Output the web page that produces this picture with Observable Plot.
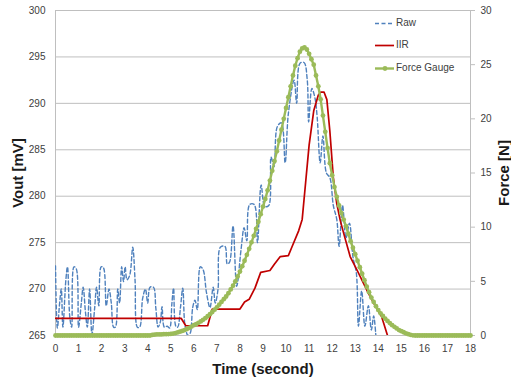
<!DOCTYPE html>
<html><head><meta charset="utf-8">
<script src="https://cdn.jsdelivr.net/npm/d3@7"></script>
<script src="https://cdn.jsdelivr.net/npm/@observablehq/plot@0.6"></script>
<style>
body{margin:0;background:#fff;font-family:"Liberation Sans",Arial,sans-serif;}
#wrap{position:relative;width:511px;height:380px;}
#legend{position:absolute;left:373px;top:14px;font-size:10px;color:#404040;line-height:1;}
#legend .row{position:absolute;left:0;width:100px;height:12px;white-space:nowrap;}
#legend svg{position:absolute;left:0;top:0;}
#legend span{position:absolute;left:23px;top:0;}
</style></head><body><div id="wrap"><div id="legend"></div></div>
<script>
// Raw sensor signal (Vout, mV)
const rawT = [0.00,0.08,0.18,0.25,0.32,0.45,0.52,0.62,0.70,0.80,0.90,1.00,1.12,1.20,1.30,1.38,1.48,1.58,1.70,1.78,1.88,1.98,2.08,2.20,2.32,2.42,2.52,2.60,2.70,2.78,2.87,2.95,3.02,3.10,3.22,3.35,3.45,3.55,3.65,3.78,3.90,4.00,4.10,4.25,4.35,4.45,4.55,4.62,4.72,4.85,4.95,5.05,5.12,5.22,5.30,5.42,5.52,5.62,5.75,5.85,5.95,6.05,6.15,6.28,6.40,6.55,6.70,6.84,6.93,7.05,7.15,7.35,7.45,7.55,7.70,7.86,8.05,8.18,8.30,8.42,8.62,8.76,8.92,9.08,9.25,9.35,9.48,9.62,9.80,9.96,10.10,10.35,10.46,10.60,10.78,10.92,10.98,11.12,11.26,11.35,11.48,11.60,11.75,11.90,12.05,12.20,12.30,12.45,12.60,12.75,12.90,13.05,13.14,13.28,13.42,13.57,13.70,13.80,13.90];
const rawV = [272.5,265.8,268.5,270.0,265.9,271.0,272.4,267.0,265.9,272.4,272.2,265.9,268.5,270.2,267.5,265.9,270.0,265.1,268.0,270.2,268.2,272.4,272.3,268.2,270.0,268.5,265.9,265.9,270.0,268.5,272.4,270.8,272.4,271.0,271.5,274.5,271.0,265.9,265.9,269.0,270.0,268.5,270.2,270.2,268.0,265.9,266.5,268.1,265.9,266.0,265.8,268.5,270.1,266.0,265.9,268.0,270.1,266.0,265.0,265.3,268.0,268.8,267.8,272.4,272.1,269.6,268.0,270.2,268.5,270.0,274.5,274.6,272.7,272.9,276.8,270.3,274.3,276.6,275.2,279.1,279.1,275.0,281.2,278.9,279.0,284.2,283.2,287.5,287.9,283.6,288.9,292.5,290.0,294.3,294.4,292.5,288.0,291.6,290.5,288.5,283.6,286.5,282.5,282.0,279.0,277.5,274.6,279.0,275.5,277.1,273.5,271.7,266.0,269.8,266.0,268.2,265.6,267.1,264.8];
// IIR filtered signal (Vout, mV)
const iirT = [0,5.45,5.65,6.6,6.8,8.0,8.2,8.4,8.65,8.9,9.3,9.5,9.75,10.1,10.25,10.55,10.7,10.85,11.0,11.2,11.4,11.5,11.65,11.77,11.9,12.05,12.2,12.35,12.5,12.78,13.15,13.5,13.8,14.15,14.4];
const iirV = [266.85,266.85,266.05,266.05,267.85,267.85,268.6,268.9,270.1,271.8,272.0,272.7,273.5,273.6,274.5,276.3,277.5,281.5,285.5,289.2,290.9,291.2,291.2,290.4,287.0,282.0,279.2,277.4,276.0,273.5,271.7,269.9,268.5,267.0,265.0];
// Force gauge (N), sampled every 0.1 s from 0 to 18 s
const gaugeF = [0,0,0,0,0,0,0,0,0,0,0,0,0,0,0,0,0,0,0,0,0,0,0,0,0,0,0,0,0,0,0,0,0,0,0,0,0,0,0,0,0,0,
0.05,0.08,0.1,0.1,0.1,0.12,0.12,0.13,0.15,0.18,0.22,0.28,0.35,0.42,0.5,0.6,0.7,0.82,0.95,1.05,1.17,1.3,1.45,1.6,1.78,1.97,2.17,2.38,2.6,2.85,3.1,3.35,3.6,3.9,4.25,4.6,5.0,5.45,5.9,6.4,6.9,7.45,8.0,8.6,9.2,9.85,10.5,11.2,11.9,12.6,13.4,14.3,15.2,16.1,17.0,18.0,19.0,20.0,21.0,22.0,23.0,24.0,24.9,25.6,26.2,26.5,26.6,26.4,26.0,25.5,25.0,24.0,23.0,21.8,20.3,18.8,17.3,15.9,14.8,13.7,12.8,12.0,11.3,10.7,10.1,9.4,8.7,8.1,7.5,6.9,6.3,5.7,5.1,4.5,4.0,3.5,3.1,2.7,2.35,2.05,1.8,1.55,1.35,1.15,0.95,0.8,0.65,0.5,0.4,0.3,0.2,0.12,0.06,0.02,
0,0,0,0,0,0,0,0,0,0,0,0,0,0,0,0,0,0,0,0,0,0,0,0,0];
const gaugeStep = 0.1;
const xTicks = [0,1,2,3,4,5,6,7,8,9,10,11,12,13,14,15,16,17,18];
const voutTicks = [265,270,275,280,285,290,295,300];
const forceTicks = [0,5,10,15,20,25,30];
const seriesNames = ["Raw","IIR","Force Gauge"];
const colors = {Raw:"#4F81BD", IIR:"#C00000", "Force Gauge":"#9BBB59"};

const vMin = 265, vMax = 300, fMax = 30;
const toV = f => vMin + f * (vMax - vMin) / fMax;
const toF = v => (v - vMin) * fMax / (vMax - vMin);

const raw = rawT.map((t,i)=>({t, v: rawV[i]}));
const iir = iirT.map((t,i)=>({t, v: iirV[i]}));
const gauge = gaugeF.map((f,i)=>({t: +(i*gaugeStep).toFixed(1), v: toV(f)}));

const plot = Plot.plot({
  width: 511, height: 380,
  marginLeft: 55, marginRight: 41, marginTop: 10, marginBottom: 45,
  style: {fontFamily: "'Liberation Sans', Arial, sans-serif", fontSize: "10px", color: "#404040", background: "#fff", overflow: "visible"},
  x: {domain: [0, 18]},
  y: {domain: [vMin, vMax]},
  marks: [
    Plot.gridY(voutTicks, {stroke: "#bfbfbf", strokeOpacity: 1}),
    Plot.ruleX([0], {stroke: "#bfbfbf"}),
    Plot.ruleX([18], {stroke: "#bfbfbf"}),
    Plot.axisY(voutTicks, {anchor: "left", tickSize: 0, tickPadding: 10, label: null}),
    Plot.axisY(forceTicks.map(toV), {anchor: "right", tickSize: 4, tickPadding: 6, label: null, stroke: "#bfbfbf", tickFormat: d => String(Math.round(toF(d)))}),
    Plot.axisX(xTicks, {anchor: "bottom", tickSize: 0, tickPadding: 9, label: null}),
    Plot.line(raw, {x: "t", y: "v", stroke: colors.Raw, strokeWidth: 1.4, strokeDasharray: "4,2.5", curve: "catmull-rom", clip: true}),
    Plot.line(iir, {x: "t", y: "v", stroke: colors.IIR, strokeWidth: 1.7, clip: true}),
    Plot.line(gauge, {x: "t", y: "v", stroke: colors["Force Gauge"], strokeWidth: 2.4}),
    Plot.dot(gauge, {x: "t", y: "v", r: 2.4, fill: colors["Force Gauge"], stroke: "none"})
  ]
});
document.getElementById("wrap").prepend(plot);

const svg = d3.select(plot);
const titleStyle = s => s.attr("font-family", "'Liberation Sans', Arial, sans-serif").attr("font-weight", "bold").attr("fill", "#1a1a1a").attr("text-anchor", "middle").attr("dominant-baseline", "central");
svg.append("text").text("Vout [mV]").attr("transform", "translate(17,173) rotate(-90)").attr("font-size", 15).call(titleStyle);
svg.append("text").text("Force [N]").attr("transform", "translate(503,173) rotate(-90)").attr("font-size", 15).call(titleStyle);
svg.append("text").text("Time (second)").attr("x", 263).attr("y", 368).attr("font-size", 15).call(titleStyle);

// legend
const legend = document.getElementById("legend");
const rowsY = [4, 26, 49];
seriesNames.forEach((name, i) => {
  const row = document.createElement("div");
  row.className = "row";
  row.style.top = rowsY[i] + "px";
  let sw = "";
  if (name === "Raw") sw = `<line x1="2" x2="21" y1="5.5" y2="5.5" stroke="${colors.Raw}" stroke-width="1.4" stroke-dasharray="4,2.5"/>`;
  else if (name === "IIR") sw = `<line x1="2" x2="21" y1="5.5" y2="5.5" stroke="${colors.IIR}" stroke-width="1.7"/>`;
  else sw = `<line x1="2" x2="21" y1="5.5" y2="5.5" stroke="${colors[name]}" stroke-width="2.4"/><circle cx="12" cy="5.5" r="2.4" fill="${colors[name]}"/>`;
  row.innerHTML = `<svg width="24" height="11">${sw}</svg><span>${name}</span>`;
  legend.appendChild(row);
});
</script>
</body></html>
